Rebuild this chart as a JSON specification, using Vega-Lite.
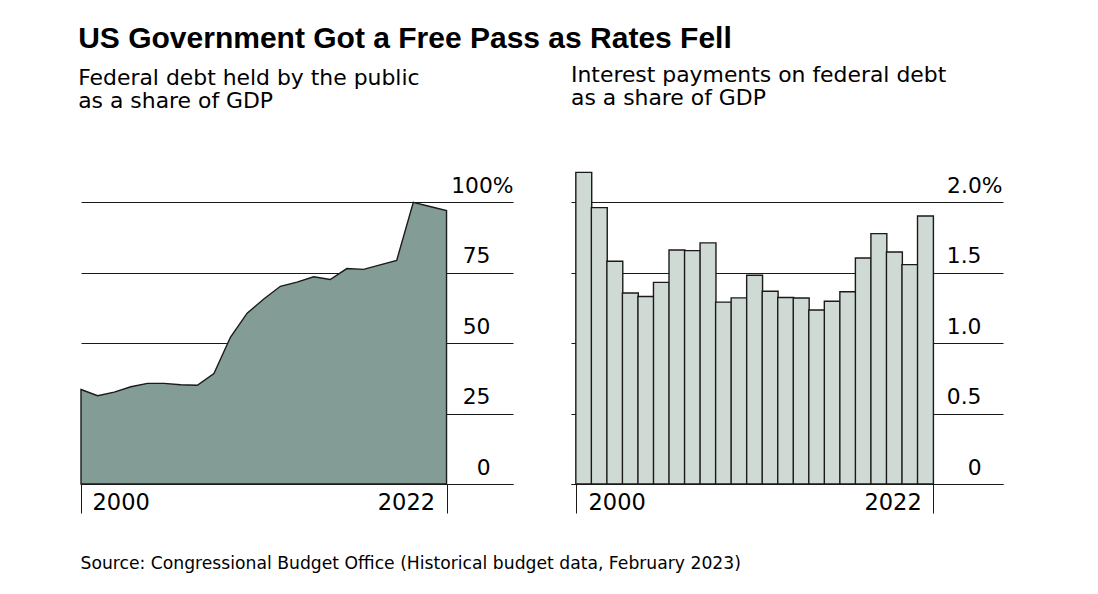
{
  "$schema": "https://vega.github.io/schema/vega-lite/v6.json",
  "background": "#ffffff",
  "padding": {"left": 78, "top": 23, "right": 20, "bottom": 10},
  "autosize": {"type": "pad"},
  "title": {
    "text": "US Government Got a Free Pass as Rates Fell",
    "anchor": "start",
    "font": "Liberation Sans",
    "fontSize": 30,
    "fontWeight": "bold",
    "color": "#000000",
    "offset": 10
  },
  "config": {
    "view": {"stroke": null},
    "axis": {"labelFont": "DejaVu Sans", "labelColor": "#000000", "titleFont": "DejaVu Sans", "titleColor": "#000000"}
  },
  "hconcat": [
    {
      "width": 432,
      "height": 282,
      "title": {
        "text": ["Federal debt held by the public", "as a share of GDP"],
        "anchor": "start",
        "font": "DejaVu Sans",
        "fontSize": 21.9,
        "fontWeight": "normal",
        "lineHeight": 23,
        "color": "#000000",
        "offset": 62
      },
      "data": {
        "values": [
          {"year": 2000, "debt": 33.5},
          {"year": 2001, "debt": 31.3},
          {"year": 2002, "debt": 32.6},
          {"year": 2003, "debt": 34.5},
          {"year": 2004, "debt": 35.7},
          {"year": 2005, "debt": 35.7},
          {"year": 2006, "debt": 35.2},
          {"year": 2007, "debt": 35.0},
          {"year": 2008, "debt": 39.2},
          {"year": 2009, "debt": 52.1},
          {"year": 2010, "debt": 60.6},
          {"year": 2011, "debt": 65.6},
          {"year": 2012, "debt": 70.1},
          {"year": 2013, "debt": 71.6},
          {"year": 2014, "debt": 73.5},
          {"year": 2015, "debt": 72.5},
          {"year": 2016, "debt": 76.4},
          {"year": 2017, "debt": 76.1},
          {"year": 2018, "debt": 77.7},
          {"year": 2019, "debt": 79.3},
          {"year": 2020, "debt": 99.9},
          {"year": 2021, "debt": 98.4},
          {"year": 2022, "debt": 97.0}
        ]
      },
      "mark": {"type": "area", "fill": "#839c96", "fillOpacity": 1, "stroke": "#1a1a1a", "strokeWidth": 1.4},
      "encoding": {
        "x": {
          "field": "year",
          "type": "quantitative",
          "scale": {"domain": [2000, 2026], "nice": false, "zero": false},
          "axis": {
            "values": [2000, 2022],
            "format": "d",
            "grid": false,
            "domain": true,
            "domainColor": "#1a1a1a",
            "domainWidth": 1,
            "ticks": true,
            "tickSize": 29,
            "tickColor": "#1a1a1a",
            "tickWidth": 1,
            "labelFontSize": 22.5,
            "labelBaseline": "alphabetic",
            "labelPadding": -4,
            "labelFlush": false,
            "labelOverlap": false,
            "labelAlign": {"condition": {"test": "datum.value == 2000", "value": "left"}, "value": "right"},
            "labelOffset": {"condition": {"test": "datum.value == 2000", "value": 11}, "value": -12},
            "title": "Source: Congressional Budget Office (Historical budget data, February 2023)",
            "titleFont": "DejaVu Sans",
            "titleFontSize": 17.2,
            "titleFontWeight": "normal",
            "titleAlign": "left",
            "titleAnchor": "start",
            "titleBaseline": "alphabetic",
            "titleX": -1,
            "titleY": 84
          }
        },
        "y": {
          "field": "debt",
          "type": "quantitative",
          "scale": {"domain": [0, 100], "nice": false},
          "axis": {
            "orient": "right",
            "values": [0, 25, 50, 75, 100],
            "labelExpr": "datum.value == 100 ? '100%' : datum.label",
            "domain": false,
            "ticks": false,
            "tickSize": 0,
            "grid": true,
            "gridColor": "#1a1a1a",
            "gridWidth": 1,
            "labelFontSize": 21.8,
            "labelAlign": "right",
            "labelBaseline": "alphabetic",
            "labelOffset": -10,
            "labelPadding": {"condition": {"test": "datum.value == 100", "value": 0}, "value": -23},
            "labelFlush": false,
            "labelOverlap": false,
            "title": null
          }
        }
      }
    },
    {
      "width": 432,
      "height": 282,
      "title": {
        "text": ["Interest payments on federal debt", "as a share of GDP"],
        "anchor": "start",
        "font": "DejaVu Sans",
        "fontSize": 21.9,
        "fontWeight": "normal",
        "lineHeight": 23,
        "color": "#000000",
        "offset": 62
      },
      "data": {
        "values": [
          {"year": 2000, "interest": 2.21},
          {"year": 2001, "interest": 1.96},
          {"year": 2002, "interest": 1.58},
          {"year": 2003, "interest": 1.355},
          {"year": 2004, "interest": 1.33},
          {"year": 2005, "interest": 1.43},
          {"year": 2006, "interest": 1.66},
          {"year": 2007, "interest": 1.655},
          {"year": 2008, "interest": 1.71},
          {"year": 2009, "interest": 1.29},
          {"year": 2010, "interest": 1.32},
          {"year": 2011, "interest": 1.48},
          {"year": 2012, "interest": 1.367},
          {"year": 2013, "interest": 1.323},
          {"year": 2014, "interest": 1.319},
          {"year": 2015, "interest": 1.234},
          {"year": 2016, "interest": 1.296},
          {"year": 2017, "interest": 1.364},
          {"year": 2018, "interest": 1.603},
          {"year": 2019, "interest": 1.776},
          {"year": 2020, "interest": 1.645},
          {"year": 2021, "interest": 1.556},
          {"year": 2022, "interest": 1.901}
        ]
      },
      "mark": {"type": "bar", "fill": "#cfdad5", "stroke": "#1a1a1a", "strokeWidth": 1.4, "width": 15.9},
      "encoding": {
        "x": {
          "field": "year",
          "type": "quantitative",
          "scale": {"domain": [1999.5, 2026.67], "nice": false, "zero": false},
          "axis": {
            "values": [1999.5, 2022.5],
            "labelExpr": "datum.value < 2010 ? '2000' : '2022'",
            "grid": false,
            "domain": true,
            "domainColor": "#1a1a1a",
            "domainWidth": 1,
            "ticks": true,
            "tickSize": 29,
            "tickColor": "#1a1a1a",
            "tickWidth": 1,
            "labelFontSize": 22.5,
            "labelBaseline": "alphabetic",
            "labelPadding": -4,
            "labelFlush": false,
            "labelOverlap": false,
            "labelAlign": {"condition": {"test": "datum.value < 2010", "value": "left"}, "value": "right"},
            "labelOffset": {"condition": {"test": "datum.value < 2010", "value": 12}, "value": -12},
            "title": null
          }
        },
        "y": {
          "field": "interest",
          "type": "quantitative",
          "scale": {"domain": [0, 2], "nice": false},
          "axis": {
            "orient": "right",
            "values": [0, 0.5, 1, 1.5, 2],
            "labelExpr": "datum.value == 0 ? '0' : datum.value == 2 ? '2.0%' : format(datum.value, '.1f')",
            "domain": false,
            "ticks": false,
            "tickSize": 0,
            "grid": true,
            "gridColor": "#1a1a1a",
            "gridWidth": 1,
            "labelFontSize": 21.8,
            "labelAlign": "right",
            "labelBaseline": "alphabetic",
            "labelOffset": -10,
            "labelPadding": {"condition": {"test": "datum.value == 2", "value": -1}, "value": -22},
            "labelFlush": false,
            "labelOverlap": false,
            "title": null
          }
        }
      }
    }
  ],
  "spacing": 58,
  "bounds": "flush"
}
